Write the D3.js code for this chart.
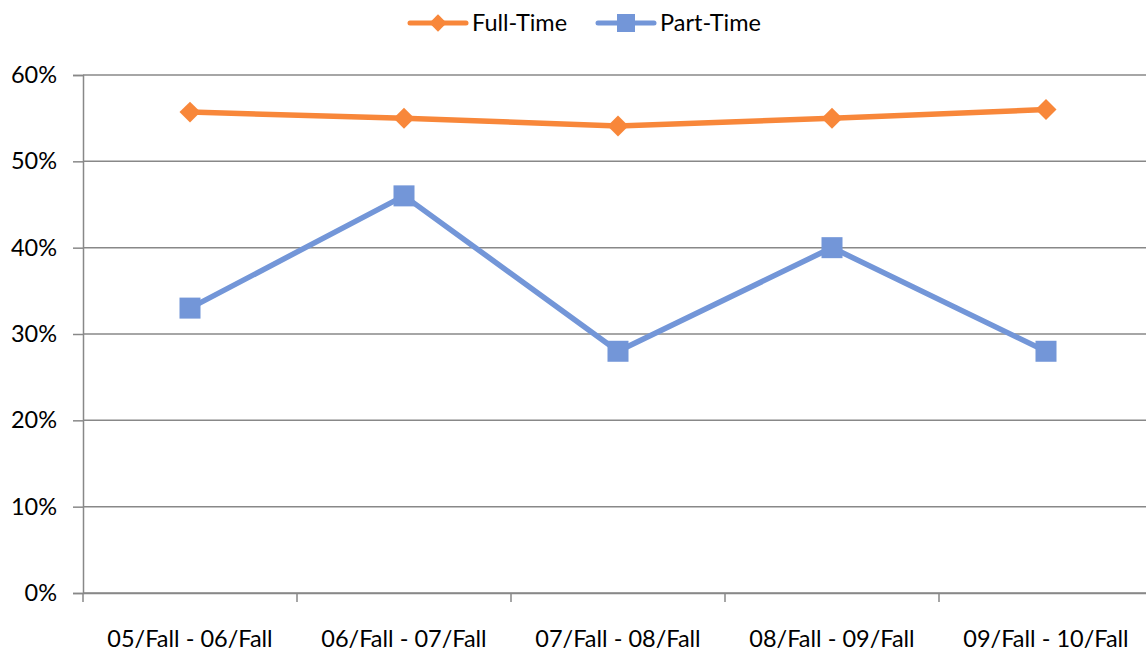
<!DOCTYPE html>
<html>
<head>
<meta charset="utf-8">
<script src="https://cdn.jsdelivr.net/npm/d3@7"></script>
<style>
  body{margin:0;background:#fff;font-family:Lato,"Open Sans",sans-serif;}
  svg text{fill:#000;}
</style>
</head>
<body>
<main></main>
<script>
const categories=["05/Fall - 06/Fall","06/Fall - 07/Fall","07/Fall - 08/Fall","08/Fall - 09/Fall","09/Fall - 10/Fall"]
const fullTime=[0.557,0.550,0.541,0.550,0.560]
const partTime=[0.33,0.46,0.28,0.40,0.28]
const yTicks=[0,0.1,0.2,0.3,0.4,0.5,0.6]
const seriesNames=["Full-Time","Part-Time"]
const colors=["#F8873A","#7396D8"]

const w=1146;
const h=654;
const padLeft=83, padRight=1153, padTop=75, padBottom=593;
const fontSize="23.5px"

const svg=d3.select("main")
  .append("svg")
  .attr("width",w)
  .attr("height",h)
  .style("display","block")

const xScale=d3.scaleBand()
  .domain(categories)
  .range([padLeft,padRight])
const yScale=d3.scaleLinear()
  .domain([0,0.6])
  .range([padBottom,padTop])

// gridlines
svg.append("g")
  .selectAll("line")
  .data(yTicks)
  .enter()
  .append("line")
  .attr("x1",padLeft)
  .attr("x2",padRight)
  .attr("y1",d=>yScale(d))
  .attr("y2",d=>yScale(d))
  .attr("stroke","#888")
  .attr("stroke-width",1.5)

const yAxis=d3.axisLeft(yScale)
  .tickValues(yTicks)
  .tickFormat(d3.format(".0%"))
  .tickSize(10)
  .tickPadding(16)
const yg=svg.append("g")
  .attr("transform","translate("+padLeft+",0)")
  .call(yAxis)
yg.select(".domain").attr("stroke","#888").attr("stroke-width",1.5)
yg.selectAll(".tick line").attr("stroke","#888").attr("stroke-width",1.5)
yg.selectAll("text").style("font-size",fontSize).style("font-family","Lato").attr("fill","#000")

const xAxis=d3.axisBottom(xScale)
  .tickSize(0)
  .tickPadding(37)
const xg=svg.append("g")
  .attr("transform","translate(0,"+padBottom+")")
  .call(xAxis)
xg.select(".domain").attr("stroke","#888").attr("stroke-width",1.5)
xg.selectAll("text").style("font-size",fontSize).style("font-family","Lato").attr("fill","#000")
// boundary ticks between categories
xg.selectAll(".bound")
  .data(d3.range(categories.length+1))
  .enter()
  .append("line")
  .attr("class","bound")
  .attr("x1",i=>padLeft+i*xScale.step())
  .attr("x2",i=>padLeft+i*xScale.step())
  .attr("y1",0)
  .attr("y2",9)
  .attr("stroke","#888")
  .attr("stroke-width",1.5)

const cx=d=>xScale(d)+xScale.bandwidth()/2
const line=d3.line()
  .x((d,i)=>cx(categories[i]))
  .y(d=>yScale(d))

const diamond=d3.symbol().type(d3.symbolSquare).size(220)

// full time
svg.append("path")
  .datum(fullTime)
  .attr("d",line)
  .attr("fill","none")
  .attr("stroke",colors[0])
  .attr("stroke-width",5.5)
svg.append("g")
  .selectAll("path")
  .data(fullTime)
  .enter()
  .append("path")
  .attr("d",diamond)
  .attr("transform",(d,i)=>"translate("+cx(categories[i])+","+yScale(d)+") rotate(45)")
  .attr("fill",colors[0])

// part time
svg.append("path")
  .datum(partTime)
  .attr("d",line)
  .attr("fill","none")
  .attr("stroke",colors[1])
  .attr("stroke-width",5.5)
svg.append("g")
  .selectAll("rect")
  .data(partTime)
  .enter()
  .append("rect")
  .attr("x",(d,i)=>cx(categories[i])-10.5)
  .attr("y",d=>yScale(d)-10.5)
  .attr("width",21)
  .attr("height",21)
  .attr("fill",colors[1])

// legend
const legendX=[410,598]
const legend=svg.append("g")
  .selectAll("g")
  .data(seriesNames)
  .enter()
  .append("g")
  .attr("transform",(d,i)=>"translate("+legendX[i]+",23)")
legend.append("line")
  .attr("x1",0).attr("x2",56)
  .attr("stroke",(d,i)=>colors[i])
  .attr("stroke-width",5)
  .attr("stroke-linecap","round")
legend.append("path")
  .attr("d",(d,i)=>i==0?d3.symbol().type(d3.symbolSquare).size(150)():"M-9,-9h18v18h-18z")
  .attr("transform",(d,i)=>"translate(28,0)"+(i==0?" rotate(45)":""))
  .attr("fill",(d,i)=>colors[i])
legend.append("text")
  .attr("x",62)
  .attr("dy","0.35em")
  .style("font-size",fontSize)
  .style("font-family","Lato")
  .text(d=>d)
</script>
</body>
</html>
